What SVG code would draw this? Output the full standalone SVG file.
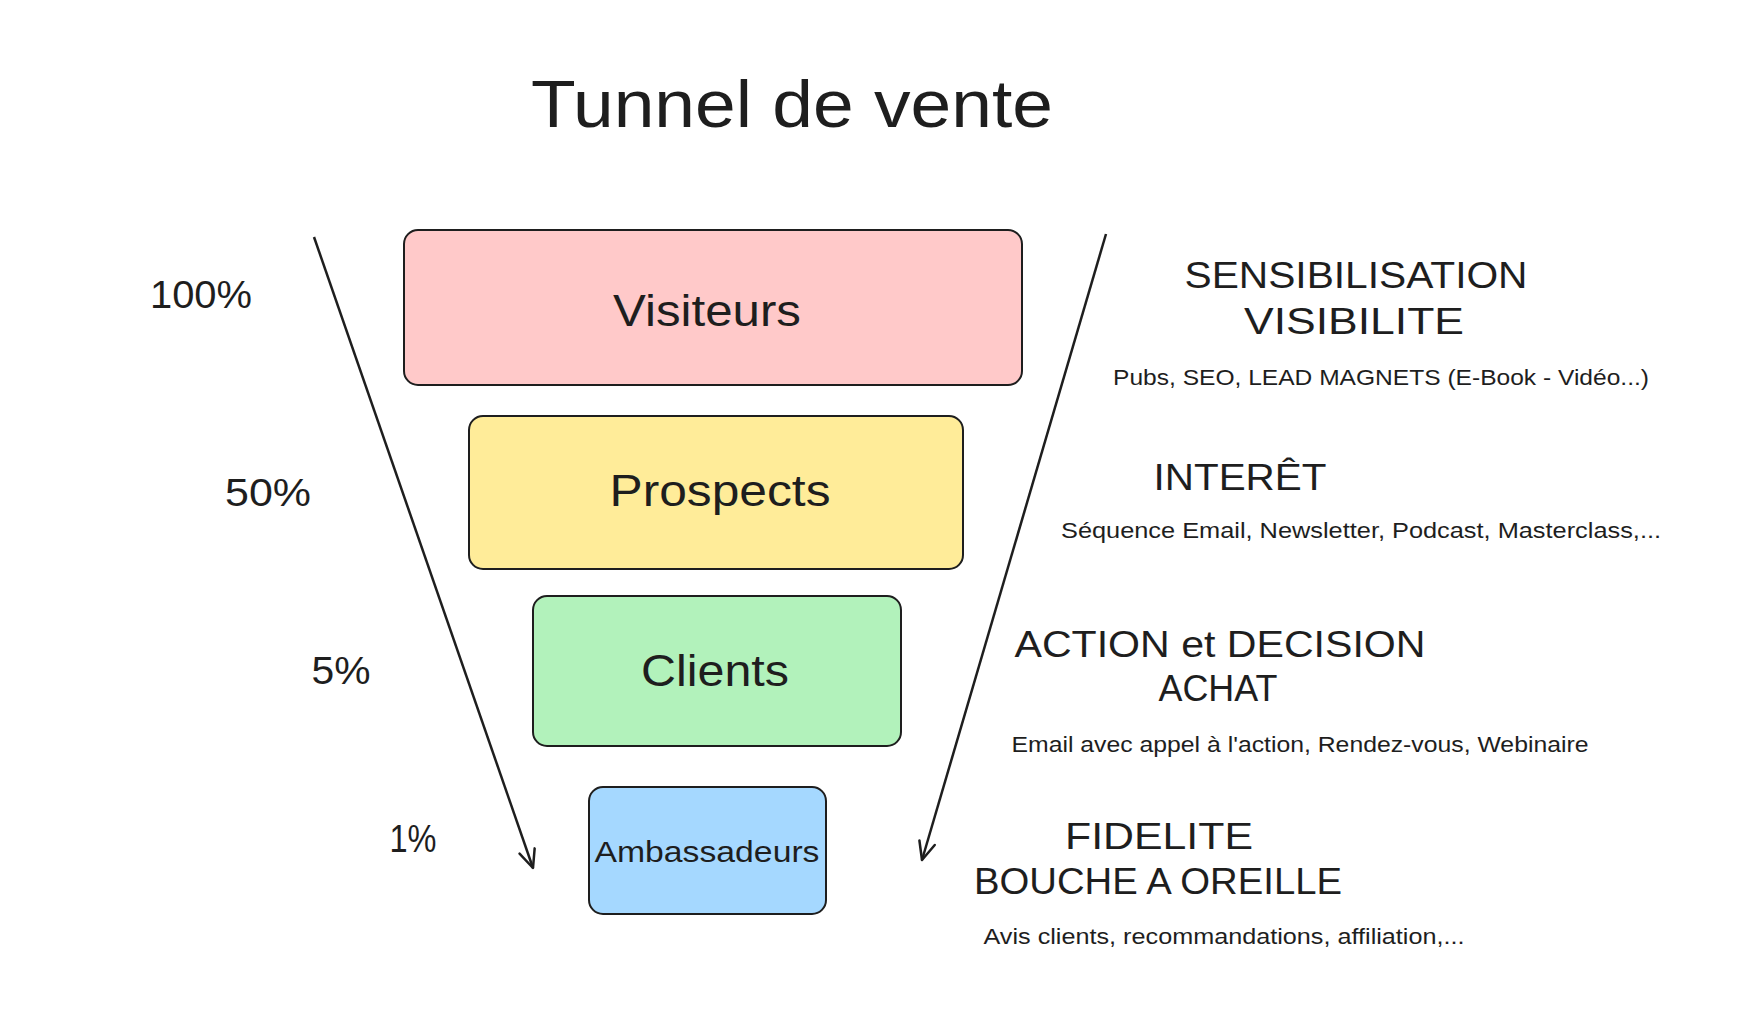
<svg xmlns="http://www.w3.org/2000/svg" width="1752" height="1018" viewBox="0 0 1752 1018">
<style>
.box{stroke:#1e1e1e;stroke-width:2;}
.t{font-family:"Liberation Sans","Noto Sans",sans-serif;fill:#1e1e1e;dominant-baseline:central;text-anchor:middle;}
.lbl{font-size:44px;}
.pct{font-size:38px;}
.head{font-size:36px;}
.sub{font-size:22px;}
.conn{stroke:#1e1e1e;stroke-width:2.5;fill:none;}
</style>
<defs>
<marker id="arr" markerUnits="userSpaceOnUse" markerWidth="30" markerHeight="30" refX="20" refY="10" orient="auto" viewBox="0 0 30 20">
<path d="M2,2 L20,10 L2,18" fill="none" stroke="#1e1e1e" stroke-width="2.5" stroke-linecap="round" stroke-linejoin="round"/>
</marker>
</defs>
<rect width="1752" height="1018" fill="#ffffff"/>
<text id="title" class="t" x="792" y="104" font-size="66" textLength="522" lengthAdjust="spacingAndGlyphs">Tunnel de vente</text>

<g id="connectors">
<line class="conn" x1="314" y1="237" x2="533" y2="868" marker-end="url(#arr)"/>
<line class="conn" x1="1106" y1="234" x2="922" y2="860" marker-end="url(#arr)"/>
</g>

<g id="visiteurs">
<rect class="box" x="404" y="230" width="618" height="155" rx="14" fill="#ffc9c9"/>
<text class="t lbl" x="707" y="310" textLength="188" lengthAdjust="spacingAndGlyphs">Visiteurs</text>
</g>
<g id="prospects">
<rect class="box" x="469" y="416" width="494" height="153" rx="14" fill="#ffec99"/>
<text class="t lbl" x="720" y="490" textLength="221" lengthAdjust="spacingAndGlyphs">Prospects</text>
</g>
<g id="clients">
<rect class="box" x="533" y="596" width="368" height="150" rx="14" fill="#b2f2bb"/>
<text class="t lbl" x="715" y="670" textLength="148" lengthAdjust="spacingAndGlyphs">Clients</text>
</g>
<g id="ambassadeurs">
<rect class="box" x="589" y="787" width="237" height="127" rx="14" fill="#a5d8ff"/>
<text class="t" x="707" y="851" font-size="30" textLength="225" lengthAdjust="spacingAndGlyphs">Ambassadeurs</text>
</g>

<g id="pct100"><text class="t pct" x="201" y="295" textLength="102" lengthAdjust="spacingAndGlyphs">100%</text></g>
<g id="pct50"><text class="t pct" x="268" y="493" textLength="86" lengthAdjust="spacingAndGlyphs">50%</text></g>
<g id="pct5"><text class="t pct" x="341" y="671" textLength="59" lengthAdjust="spacingAndGlyphs">5%</text></g>
<g id="pct1"><text class="t pct" x="413" y="839" textLength="47" lengthAdjust="spacingAndGlyphs">1%</text></g>

<g id="stage1">
<text class="t head" x="1356" y="275" textLength="343" lengthAdjust="spacingAndGlyphs">SENSIBILISATION</text>
<text class="t head" x="1354" y="321" textLength="220" lengthAdjust="spacingAndGlyphs">VISIBILITE</text>
<text class="t sub" x="1381" y="377" textLength="536" lengthAdjust="spacingAndGlyphs">Pubs, SEO, LEAD MAGNETS (E-Book - Vidéo...)</text>
</g>
<g id="stage2">
<text class="t head" x="1240" y="477" textLength="173" lengthAdjust="spacingAndGlyphs">INTERÊT</text>
<text class="t sub" x="1361" y="530" textLength="600" lengthAdjust="spacingAndGlyphs">Séquence Email, Newsletter, Podcast, Masterclass,...</text>
</g>
<g id="stage3">
<text class="t head" x="1220" y="644" textLength="411" lengthAdjust="spacingAndGlyphs">ACTION et DECISION</text>
<text class="t head" x="1218" y="688" textLength="119" lengthAdjust="spacingAndGlyphs">ACHAT</text>
<text class="t sub" x="1300" y="744" textLength="577" lengthAdjust="spacingAndGlyphs">Email avec appel à l'action, Rendez-vous, Webinaire</text>
</g>
<g id="stage4">
<text class="t head" x="1159" y="836" textLength="188" lengthAdjust="spacingAndGlyphs">FIDELITE</text>
<text class="t head" x="1158" y="881" textLength="368" lengthAdjust="spacingAndGlyphs">BOUCHE A OREILLE</text>
<text class="t sub" x="1224" y="936" textLength="481" lengthAdjust="spacingAndGlyphs">Avis clients, recommandations, affiliation,...</text>
</g>
</svg>
